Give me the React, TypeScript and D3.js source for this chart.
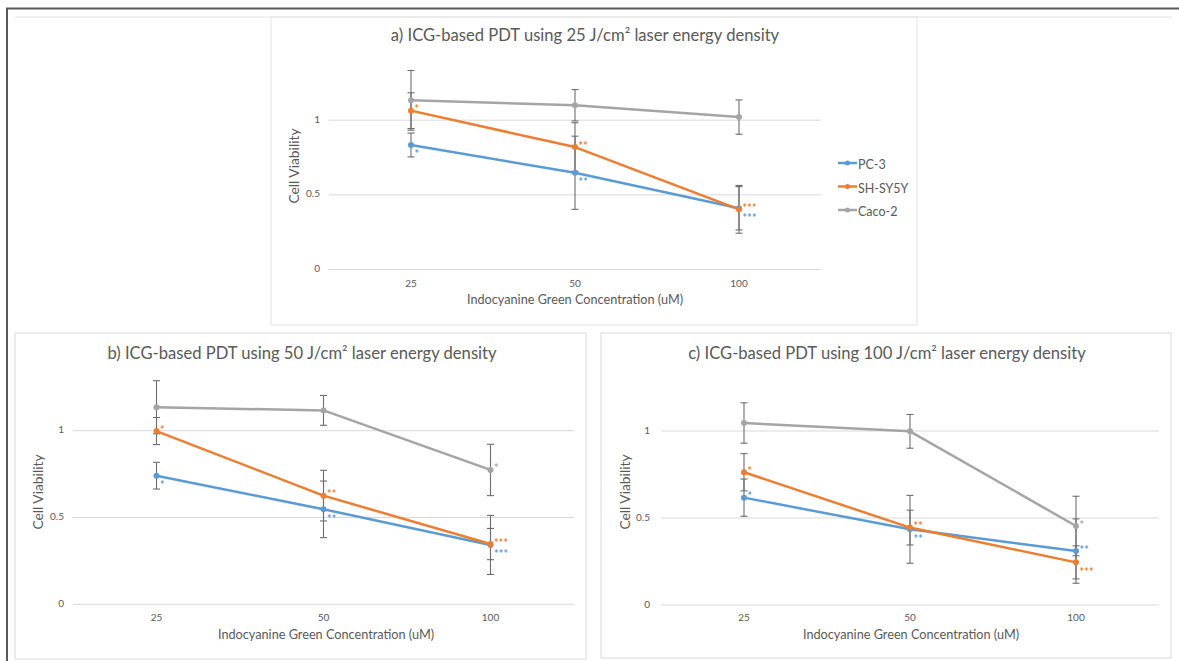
import React from "react";
import * as d3 from "d3";

const categories = ["25", "50", "100"];
const seriesNames = ["PC-3", "SH-SY5Y", "Caco-2"];
const seriesColors = ["#5B9BD5", "#ED7D31", "#A5A5A5"];
const yTicks = [0, 0.5, 1];

// Panel a (25 J/cm²)
const pc3A = [0.834, 0.648, 0.41];
const pc3AErr = [0.08, 0.245, 0.145];
const shA = [1.064, 0.82, 0.403];
const shAErr = [0.12, 0.163, 0.16];
const cacoA = [1.133, 1.1, 1.021];
const cacoAErr = [0.2, 0.105, 0.115];
const pc3AStars = ["*", "**", "***"];
const shAStars = ["*", "**", "***"];
const cacoAStars = ["", "", ""];
const pc3AStarPos = ["b", "b", "b"];
const shAStarPos = ["r", "r", "r"];
const cacoAStarPos = ["r", "r", "r"];

// Panel b (50 J/cm²)
const pc3B = [0.741, 0.547, 0.342];
const pc3BErr = [0.077, 0.163, 0.17];
const shB = [0.998, 0.626, 0.347];
const shBErr = [0.078, 0.146, 0.09];
const cacoB = [1.135, 1.117, 0.774];
const cacoBErr = [0.153, 0.086, 0.148];
const pc3BStars = ["*", "**", "***"];
const shBStars = ["*", "**", "***"];
const cacoBStars = ["", "", "*"];
const pc3BStarPos = ["b", "b", "b"];
const shBStarPos = ["r", "r", "r"];
const cacoBStarPos = ["r", "r", "r"];

// Panel c (100 J/cm²)
const pc3C = [0.617, 0.435, 0.31];
const pc3CErr = [0.107, 0.195, 0.185];
const shC = [0.763, 0.445, 0.245];
const shCErr = [0.107, 0.1, 0.095];
const cacoC = [1.046, 0.998, 0.454];
const cacoCErr = [0.116, 0.097, 0.171];
const pc3CStars = ["*", "**", "**"];
const shCStars = ["*", "**", "***"];
const cacoCStars = ["", "", "*"];
const pc3CStarPos = ["r", "b", "r"];
const shCStarPos = ["r", "r", "b"];
const cacoCStarPos = ["r", "r", "r"];

const titleA = "a) ICG-based PDT using 25 J/cm² laser energy density";
const titleB = "b) ICG-based PDT using 50 J/cm² laser energy density";
const titleC = "c) ICG-based PDT using 100 J/cm² laser energy density";
const xTitle = "Indocyanine Green Concentration (uM)";
const yTitle = "Cell Viability";

const FONT = "Lato, 'Open Sans', sans-serif";
const TEXT = "#595959";
const GRID = "#D9D9D9";
const ERR = "#6E6E6E";

type Series = { name: string; color: string; values: number[]; errs: number[]; stars: string[]; pos: string[] };

type PanelProps = {
  title: string;
  titleX: number;
  titleY: number;
  gridL: number;
  gridR: number;
  y0: number;
  y1: number;
  tickRight: number;
  xTickY: number;
  xTitleX: number;
  xTitleY: number;
  yTitleX: number;
  yTitleY: number;
  series: Series[];
};

function Panel(p: PanelProps) {
  const x = d3.scaleBand<string>().domain(categories).range([p.gridL, p.gridR]);
  const cx = (c: string) => (x(c) as number) + x.bandwidth() / 2;
  const y = d3.scaleLinear().domain([0, 1]).range([p.y0, p.y1]);
  const line = d3
    .line<number>()
    .x((_, i) => cx(categories[i]))
    .y((d) => y(d));
  return (
    <g>
      <text x={p.titleX} y={p.titleY} textAnchor="middle" dominantBaseline="middle" fontSize={16.6} fill={TEXT} fontFamily={FONT}>
        {p.title}
      </text>
      {yTicks.map((t) => (
        <g key={t}>
          <line x1={p.gridL} x2={p.gridR} y1={y(t)} y2={y(t)} stroke={GRID} strokeWidth={1} />
          <text x={p.tickRight} y={y(t)} textAnchor="end" dominantBaseline="middle" fontSize={10} fill={TEXT} fontFamily={FONT}>
            {t}
          </text>
        </g>
      ))}
      {categories.map((c) => (
        <text key={c} x={cx(c)} y={p.xTickY} textAnchor="middle" dominantBaseline="middle" fontSize={10} fill={TEXT} fontFamily={FONT}>
          {c}
        </text>
      ))}
      <text x={p.xTitleX} y={p.xTitleY} textAnchor="middle" dominantBaseline="middle" fontSize={12.7} fill={TEXT} fontFamily={FONT}>
        {xTitle}
      </text>
      <text
        transform={`translate(${p.yTitleX},${p.yTitleY}) rotate(-90)`}
        textAnchor="middle"
        dominantBaseline="middle"
        fontSize={13.8}
        fill={TEXT}
        fontFamily={FONT}
      >
        {yTitle}
      </text>
      {p.series.map((s) => (
        <path key={s.name} d={line(s.values) as string} fill="none" stroke={s.color} strokeWidth={2.5} strokeLinejoin="round" />
      ))}
      {p.series.map((s) =>
        s.values.map((v, i) => {
          const px = cx(categories[i]);
          const top = y(v + s.errs[i]);
          const bot = y(v - s.errs[i]);
          return (
            <g key={s.name + i} stroke={ERR} strokeWidth={1.1}>
              <line x1={px} x2={px} y1={top} y2={bot} />
              <line x1={px - 3.5} x2={px + 3.5} y1={top} y2={top} />
              <line x1={px - 3.5} x2={px + 3.5} y1={bot} y2={bot} />
            </g>
          );
        })
      )}
      {p.series.map((s) =>
        s.values.map((v, i) => (
          <circle key={s.name + "m" + i} cx={cx(categories[i])} cy={y(v)} r={3} fill={s.color} />
        ))
      )}
      {p.series.map((s) =>
        s.values.map((v, i) =>
          s.stars[i] ? (
            <text
              key={s.name + "s" + i}
              x={cx(categories[i]) + 3.5}
              y={y(v) + (s.pos[i] === "b" ? 9 : -2) + 4.5}
              fontSize={10.5}
              fontWeight="bold"
              fill={s.color}
              fontFamily={FONT}
              letterSpacing={0.3}
            >
              {s.stars[i]}
            </text>
          ) : null
        )
      )}
    </g>
  );
}

function mk(values: number[][], errs: number[][], stars: string[][], pos: string[][]): Series[] {
  return seriesNames.map((name, k) => ({ name, color: seriesColors[k], values: values[k], errs: errs[k], stars: stars[k], pos: pos[k] }));
}

export default function App() {
  const sA = mk([pc3A, shA, cacoA], [pc3AErr, shAErr, cacoAErr], [pc3AStars, shAStars, cacoAStars], [pc3AStarPos, shAStarPos, cacoAStarPos]);
  const sB = mk([pc3B, shB, cacoB], [pc3BErr, shBErr, cacoBErr], [pc3BStars, shBStars, cacoBStars], [pc3BStarPos, shBStarPos, cacoBStarPos]);
  const sC = mk([pc3C, shC, cacoC], [pc3CErr, shCErr, cacoCErr], [pc3CStars, shCStars, cacoCStars], [pc3CStarPos, shCStarPos, cacoCStarPos]);
  const legendY = d3.scalePoint<string>().domain(seriesNames).range([163, 210]);
  return (
    <svg width={1179} height={661} style={{ position: "absolute", left: 0, top: 0, background: "#fff" }}>
      <rect x={0} y={0} width={1179} height={661} fill="#fff" />
      {/* outer frame */}
      <line x1={6} x2={1179} y1={8.5} y2={8.5} stroke="#5A5A5A" strokeWidth={2} />
      <line x1={7} x2={7} y1={8} y2={661} stroke="#5A5A5A" strokeWidth={2} />
      <line x1={15} x2={1172} y1={17} y2={17} stroke="#E3E3E3" strokeWidth={1} />
      {/* panel boxes */}
      <rect x={271} y={17} width={646} height={308} fill="none" stroke="#E3E3E3" strokeWidth={1} />
      <rect x={15} y={333} width={571} height={326} fill="none" stroke="#DADADA" strokeWidth={1} />
      <rect x={601} y={333} width={570} height={325} fill="none" stroke="#DADADA" strokeWidth={1} />

      <Panel
        title={titleA}
        titleX={585}
        titleY={37}
        gridL={329}
        gridR={821}
        y0={269.5}
        y1={120.2}
        tickRight={320}
        xTickY={284.5}
        xTitleX={575}
        xTitleY={301}
        yTitleX={295}
        yTitleY={166}
        series={sA}
      />
      <Panel
        title={titleB}
        titleX={302}
        titleY={355}
        gridL={73}
        gridR={574}
        y0={604.3}
        y1={430.7}
        tickRight={64}
        xTickY={618.5}
        xTitleX={326}
        xTitleY={636}
        yTitleX={39}
        yTitleY={492}
        series={sB}
      />
      <Panel
        title={titleC}
        titleX={887}
        titleY={355}
        gridL={661}
        gridR={1159}
        y0={605}
        y1={431}
        tickRight={650}
        xTickY={618.5}
        xTitleX={911}
        xTitleY={636}
        yTitleX={626}
        yTitleY={492}
        series={sC}
      />
      {/* legend for panel a */}
      {seriesNames.map((n, k) => {
        const ly = legendY(n) as number;
        return (
          <g key={n}>
            <line x1={838} x2={857} y1={ly} y2={ly} stroke={seriesColors[k]} strokeWidth={2.5} />
            <circle cx={847.5} cy={ly} r={2.5} fill={seriesColors[k]} />
            <text x={858} y={ly + 3} dominantBaseline="middle" fontSize={12.5} fill={TEXT} fontFamily={FONT}>
              {n}
            </text>
          </g>
        );
      })}
    </svg>
  );
}
